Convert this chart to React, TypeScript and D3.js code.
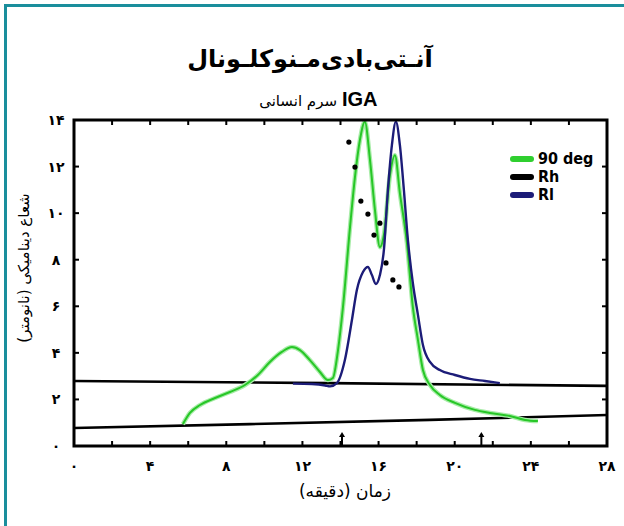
import React from 'react';
import * as d3 from 'd3';

const W = 624;
const H = 526;

const xTickValues = [2, 4, 6, 8, 10, 12, 14, 16, 18, 20, 22, 24, 26];
const xLabelValues = [0, 4, 8, 12, 16, 20, 24, 28];
const yTickValues = [2, 4, 6, 8, 10, 12];
const yLabelValues = [0, 2, 4, 6, 8, 10, 12, 14];
const markerArrows = [14.08, 21.4];

// 90 deg light scattering (green)
const green90: [number, number][] = [
  [5.72, 0.94], [6.09, 1.42], [6.62, 1.76], [7.41, 2.06], [8.19, 2.32], [8.98, 2.62],
  [9.66, 3.05], [10.29, 3.61], [10.92, 4.04], [11.45, 4.25], [11.87, 4.12], [12.39, 3.69],
  [12.92, 3.18], [13.34, 2.83], [13.6, 2.92], [13.87, 4.12], [14.13, 5.97], [14.5, 9.4],
  [14.76, 11.55], [15.02, 13.14], [15.28, 13.93], [15.55, 12.28], [15.81, 10.13], [16.07, 8.54],
  [16.28, 9.06], [16.6, 11.64], [16.86, 12.49], [17.12, 10.86], [17.49, 8.72], [17.8, 5.97],
  [18.07, 4.55], [18.33, 3.26], [18.7, 2.62], [19.22, 2.19], [20.01, 1.85], [21.06, 1.55],
  [21.85, 1.42], [22.9, 1.29], [23.69, 1.12], [24.37, 1.07],
];

// Rl (navy)
const blueRl: [number, number][] = [
  [11.5, 2.68], [12.5, 2.66], [13.2, 2.6], [13.45, 2.56], [13.81, 2.7], [14.23, 3.69], [14.6, 5.41], [14.86, 6.7],
  [15.18, 7.47], [15.44, 7.69], [15.65, 7.34], [15.86, 6.96], [16.07, 7.34], [16.28, 8.42],
  [16.49, 10.99], [16.7, 12.92], [16.91, 13.93], [17.12, 12.92], [17.33, 10.99], [17.54, 8.85],
  [17.8, 7.0], [18.07, 5.62], [18.33, 4.34], [18.7, 3.61], [19.22, 3.26], [20.01, 3.05],
  [20.8, 2.88], [21.59, 2.79], [22.37, 2.7],
];

// Rh (black dots)
const rhDots: [number, number][] = [
  [14.44, 13.05], [14.76, 11.98], [15.07, 10.52], [15.44, 9.96], [16.07, 9.57],
  [15.76, 9.06], [16.39, 7.86], [16.75, 7.13], [17.07, 6.83],
];

const upperBase: [number, number][] = [[0, 2.79], [13.45, 2.7], [28, 2.58]];
const lowerBase: [number, number][] = [[0, 0.77], [9.24, 0.94], [18.7, 1.12], [28, 1.33]];

const legendItems = [
  { label: '90 deg', color: '#2fcf2f' },
  { label: 'Rh', color: '#000000' },
  { label: 'Rl', color: '#1c1c78' },
];

const faDigits = '۰۱۲۳۴۵۶۷۸۹';
const fa = (n: number) => String(n).replace(/\d/g, (d) => faDigits[+d]);

export default function App() {
  const left = 74, right = 607, top = 120, bottom = 446;
  const x = d3.scaleLinear().domain([0, 28]).range([left, right]);
  const y = d3.scaleLinear().domain([0, 14]).range([bottom, top]);
  const line = d3.line<[number, number]>().x((d) => x(d[0])).y((d) => y(d[1])).curve(d3.curveMonotoneX);
  const straight = d3.line<[number, number]>().x((d) => x(d[0])).y((d) => y(d[1]));
  const faFont = "'DejaVu Sans', sans-serif";

  return (
    <svg width={W} height={H} viewBox={`0 0 ${W} ${H}`} style={{ position: 'absolute', left: 0, top: 0, background: '#fff' }}>
      <rect x={0} y={0} width={W} height={H} fill="#fff" />
      <rect x={5.5} y={5.5} width={640} height={560} fill="none" stroke="#1a8e9c" strokeWidth={3} />

      <text x={310} y={67} textAnchor="middle" fontFamily={faFont} fontWeight="bold" fontSize={24}>
        آنـتی‌بادی‌مـنوکلـونال
      </text>
      <text x={337} y={106} textAnchor="end" fontFamily={faFont} fontSize={15}>
        سرم انسانی
      </text>
      <text x={342} y={106} textAnchor="start" fontFamily="'Liberation Sans', Arial, sans-serif" fontWeight="bold" fontSize={20}>
        IGA
      </text>

      {/* baselines */}
      <path d={straight(upperBase) || ''} fill="none" stroke="#000" strokeWidth={2.6} />
      <path d={straight(lowerBase) || ''} fill="none" stroke="#000" strokeWidth={2.6} />

      {/* green */}
      <path d={line(green90) || ''} fill="none" stroke="#a8eca8" strokeWidth={4.5} strokeLinejoin="round" />
      <path d={line(green90) || ''} fill="none" stroke="#27c727" strokeWidth={2} strokeLinejoin="round" />
      {/* blue */}
      <path d={line(blueRl) || ''} fill="none" stroke="#1c1c78" strokeWidth={2.4} strokeLinejoin="round" />
      {/* dots */}
      {rhDots.map((d, i) => (
        <circle key={i} cx={x(d[0])} cy={y(d[1])} r={2.6} fill="#000" />
      ))}

      {/* frame */}
      <rect x={left} y={top} width={right - left} height={bottom - top} fill="none" stroke="#000" strokeWidth={3} />

      {xTickValues.map((v) => (
        <g key={'xt' + v}>
          <line x1={x(v)} x2={x(v)} y1={bottom} y2={bottom - 5} stroke="#000" strokeWidth={2} />
          <line x1={x(v)} x2={x(v)} y1={top} y2={top + 5} stroke="#000" strokeWidth={2} />
        </g>
      ))}
      {markerArrows.map((v) => (
        <g key={'ma' + v}>
          <line x1={x(v)} x2={x(v)} y1={bottom} y2={bottom - 12} stroke="#000" strokeWidth={2} />
          <path d={`M${x(v) - 3},${bottom - 9} L${x(v)},${bottom - 14} L${x(v) + 3},${bottom - 9} Z`} fill="#000" />
        </g>
      ))}
      {yTickValues.map((v) => (
        <g key={'yt' + v}>
          <line x1={left} x2={left + 5} y1={y(v)} y2={y(v)} stroke="#000" strokeWidth={2} />
          <line x1={right} x2={right - 5} y1={y(v)} y2={y(v)} stroke="#000" strokeWidth={2} />
        </g>
      ))}

      {xLabelValues.map((v) => (
        <text key={'xl' + v} x={x(v)} y={471} textAnchor="middle" fontFamily={faFont} fontWeight="bold" fontSize={14}>
          {fa(v)}
        </text>
      ))}
      {yLabelValues.map((v) => (
        <text key={'yl' + v} x={56} y={y(v) + 5} textAnchor="middle" fontFamily={faFont} fontWeight="bold" fontSize={14}>
          {fa(v)}
        </text>
      ))}

      <text x={345} y={497} textAnchor="middle" fontFamily={faFont} fontSize={17}>
        زمان (دقیقه)
      </text>
      <text transform={`translate(29,268) rotate(-90)`} textAnchor="middle" fontFamily={faFont} fontSize={15}>
        شعاع دینامیکی (نانومتر)
      </text>

      {legendItems.map((it, i) => (
        <g key={it.label}>
          <line x1={513} x2={531} y1={159 + i * 18} y2={159 + i * 18} stroke={it.color} strokeWidth={6} strokeLinecap="round" />
          <text x={538} y={164 + i * 18} fontFamily="'Liberation Sans Narrow', 'DejaVu Sans Condensed', sans-serif" fontWeight="bold" fontSize={16}>
            {it.label}
          </text>
        </g>
      ))}
    </svg>
  );
}
